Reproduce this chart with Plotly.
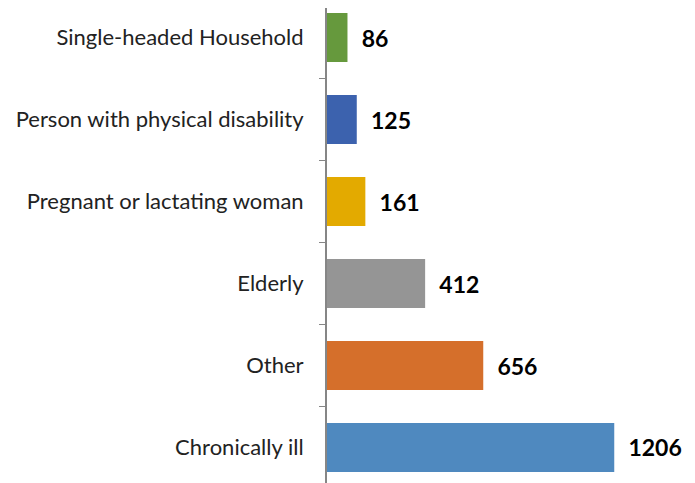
"""Horizontal bar chart of vulnerable household members"""
import plotly.graph_objects as go

# Data (bottom to top)
categories = [
    "Chronically ill",
    "Other",
    "Elderly",
    "Pregnant or lactating woman",
    "Person with physical disability",
    "Single-headed Household",
]
counts = [1206, 656, 412, 161, 125, 86]
bar_colors = ["#4f89bf", "#d56f2b", "#959595", "#e3aa00", "#3c62ae", "#66993d"]

fig = go.Figure(
    go.Bar(
        x=counts,
        y=categories,
        orientation="h",
        marker=dict(color=bar_colors, line=dict(width=0)),
        text=counts,
        texttemplate="  %{text}",
        textposition="outside",
        cliponaxis=False,
        textfont=dict(family="Lato", size=23, color="#000000", weight="bold"),
    )
)

# page body has an 8px margin, so the figure is sized to end at the window edge
fig.update_layout(
    width=687,
    height=475,
    margin=dict(l=319, r=0, t=0, b=0),
    paper_bgcolor="white",
    plot_bgcolor="white",
    bargap=0.4,
    showlegend=False,
    font=dict(family="Lato", size=22, color="#222222"),
)

fig.update_xaxes(
    range=[0, 1545],
    visible=False,
    showgrid=False,
    zeroline=False,
    automargin=False,
)

fig.update_yaxes(
    type="category",
    range=[-0.433, 5.36],
    automargin=False,
    showgrid=False,
    showline=True,
    linecolor="#868686",
    linewidth=2,
    ticks="outside",
    tickson="boundaries",
    ticklen=6,
    tickcolor="#868686",
    tickwidth=1,
    ticklabelstandoff=17,
    tickfont=dict(family="Lato", size=22, color="#222222"),
)

fig.write_html("out.html")
